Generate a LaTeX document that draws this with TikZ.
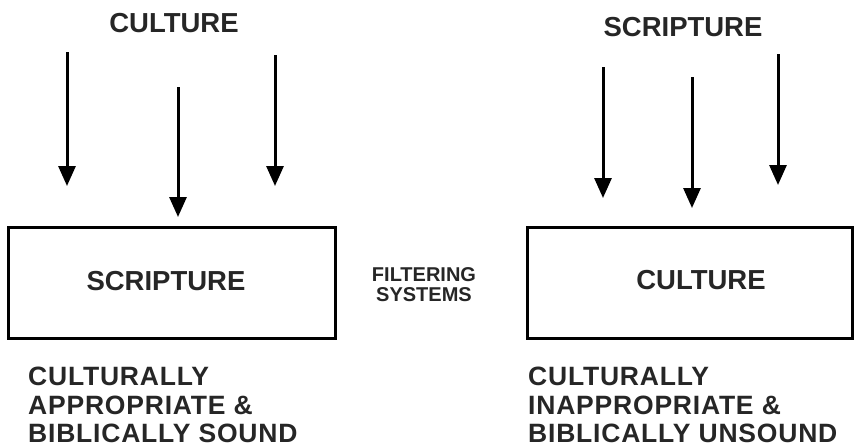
\documentclass[tikz,border=0pt]{standalone}
\usepackage{fontspec}
\setmainfont{Liberation Sans}
\usetikzlibrary{arrows.meta}
\begin{document}
\begin{tikzpicture}[x=1pt,y=-1pt,
  big/.style={font=\bfseries\fontsize{27.5}{28.5}\selectfont, inner sep=0pt, text=black!85},
  res/.style={font=\bfseries\fontsize{26.5}{28.4}\selectfont\addfontfeature{LetterSpace=3}, inner sep=0pt, text=black!85, anchor=north west, align=left},
  small/.style={font=\bfseries\fontsize{20}{20}\selectfont, inner sep=0pt, align=center, text=black!85},
  boxed/.style={draw, line width=2.8pt, inner sep=0pt, minimum height=111pt},
  down/.style={line width=3pt, -{Triangle[length=20pt,width=17pt]}}]
\useasboundingbox (0,0) rectangle (855,447);
% left side
\node[big] (lt) at (174,23) {CULTURE};
\node[boxed, minimum width=327pt] (lb) at (172,283) {};
\node[big] (ltx) at (166,281) {SCRIPTURE};
\node[res] (lres) at (28,367) {CULTURALLY\\APPROPRIATE \&\\BIBLICALLY SOUND};
\coordinate (la1) at (67,52);  \coordinate (lb1) at (67,186);
\coordinate (la2) at (178,87); \coordinate (lb2) at (178,217);
\coordinate (la3) at (275,55); \coordinate (lb3) at (275,186);
\draw[down] (la1) -- (lb1);
\draw[down] (la2) -- (lb2);
\draw[down] (la3) -- (lb3);
% middle
\node[small] (filt) at (424,285) {FILTERING\\SYSTEMS};
% right side
\node[big] (rt) at (683,27) {SCRIPTURE};
\node[boxed, minimum width=325pt] (rb) at (690,283) {};
\node[big] (rtx) at (701,280) {CULTURE};
\node[res] (rres) at (528,367) {CULTURALLY\\INAPPROPRIATE \&\\BIBLICALLY UNSOUND};
\coordinate (ra1) at (603,67); \coordinate (rb1) at (603,198);
\coordinate (ra2) at (692,77); \coordinate (rb2) at (692,208);
\coordinate (ra3) at (778,54); \coordinate (rb3) at (778,185);
\draw[down] (ra1) -- (rb1);
\draw[down] (ra2) -- (rb2);
\draw[down] (ra3) -- (rb3);
\end{tikzpicture}
\end{document}
